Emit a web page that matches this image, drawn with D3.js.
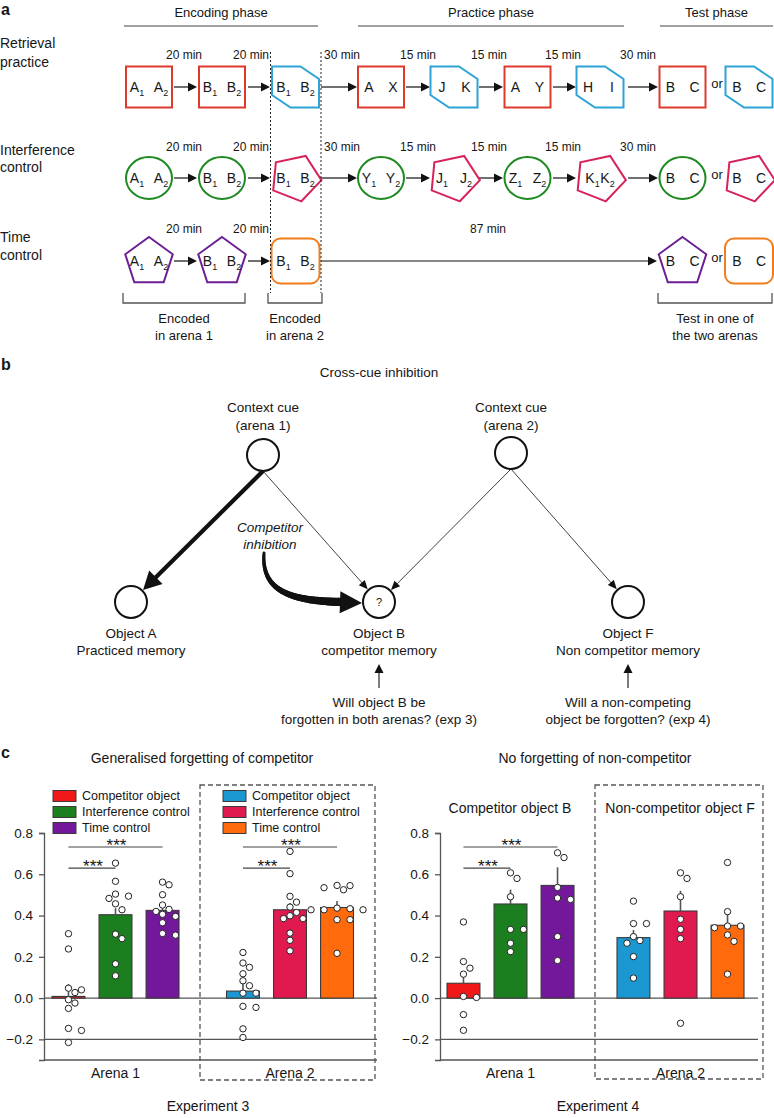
<!DOCTYPE html>
<html><head><meta charset="utf-8">
<script src="https://cdn.jsdelivr.net/npm/d3@7"></script>
<style>
body{margin:0;background:#fff}
svg{display:block}
text{font-family:"Liberation Sans",Arial,Helvetica,sans-serif;fill:#161616}
</style>
</head><body>
<svg id="fig" width="774" height="1118"></svg>
<script>
// ---------------- DATA ----------------
// Panel a
const phaseNames = ["Encoding phase", "Practice phase", "Test phase"];
const conditionNames = [["Retrieval", "practice"], ["Interference", "control"], ["Time", "control"]];
const rpTimes = ["20 min", "20 min", "30 min", "15 min", "15 min", "15 min", "30 min"];
const icTimes = ["20 min", "20 min", "30 min", "15 min", "15 min", "15 min", "30 min"];
const tcTimes = ["20 min", "20 min", "87 min"];
const rpItems = ["A_1 A_2", "B_1 B_2", "B_1 B_2", "A X", "J K", "A Y", "H I", "B C", "B C"];
const rpShapes = ["square", "square", "hex", "square", "hex", "square", "hex", "square", "hex"];
const icItems = ["A_1 A_2", "B_1 B_2", "B_1 B_2", "Y_1 Y_2", "J_1 J_2", "Z_1 Z_2", "K_1 K_2", "B C", "B C"];
const icShapes = ["circle", "circle", "pent", "circle", "pent", "circle", "pent", "circle", "pent"];
const tcItems = ["A_1 A_2", "B_1 B_2", "B_1 B_2", "B C", "B C"];
const tcShapes = ["pentUp", "pentUp", "rounded", "pentUp", "rounded"];
const bracketLabels = [["Encoded", "in arena 1"], ["Encoded", "in arena 2"], ["Test in one of", "the two arenas"]];

// Panel b
const panelBTitle = "Cross-cue inhibition";
const cueLabels = [["Context cue", "(arena 1)"], ["Context cue", "(arena 2)"]];
const objectLabels = [["Object A", "Practiced memory"], ["Object B", "competitor memory"], ["Object F", "Non competitor memory"]];
const objectMarks = ["", "?", ""];
const questionLabels = [null, ["Will object B be", "forgotten in both arenas? (exp 3)"], ["Will a non-competing", "object be forgotten? (exp 4)"]];
const cueLinks = [[0, 0, "strong"], [0, 1, "weak"], [1, 1, "weak"], [1, 2, "weak"]];
const inhibitionLabel = ["Competitor", "inhibition"];

// Panel c
const arenas = ["Arena 1", "Arena 2"];
const conditions = ["Competitor object", "Interference control", "Time control"];
const yTicks = [-0.2, 0, 0.2, 0.4, 0.6, 0.8];
const exp3Means = [[0.008, 0.404, 0.425], [0.034, 0.428, 0.439]];
const exp3Sem = [[0.060, 0.032, 0.027], [0.041, 0.033, 0.031]];
const exp3Points = [
  [[0.312, 0.238, 0.048, 0.040, 0.027, -0.008, -0.024, -0.050, -0.147, -0.157, -0.215],
   [0.654, 0.566, 0.504, 0.494, 0.483, 0.457, 0.428, 0.310, 0.288, 0.166, 0.108],
   [0.562, 0.549, 0.501, 0.451, 0.430, 0.420, 0.406, 0.396, 0.365, 0.313, 0.305]],
  [[0.221, 0.170, 0.149, 0.118, 0.084, 0.060, 0.024, 0.024, -0.040, -0.045, -0.149, -0.191],
   [0.711, 0.603, 0.493, 0.465, 0.441, 0.415, 0.399, 0.385, 0.385, 0.315, 0.280, 0.229],
   [0.546, 0.545, 0.535, 0.525, 0.436, 0.433, 0.428, 0.428, 0.428, 0.380, 0.380, 0.217]]
];
const exp4Means = [[0.072, 0.456, 0.546], [0.293, 0.422, 0.353]];
const exp4Sem = [[0.044, 0.070, 0.088], [0.037, 0.098, 0.056]];
const exp4Points = [
  [[0.369, 0.177, 0.145, 0.116, 0.008, 0.003, -0.080, -0.156],
   [0.607, 0.580, 0.491, 0.333, 0.333, 0.266, 0.225],
   [0.704, 0.681, 0.536, 0.485, 0.478, 0.298, 0.182]],
  [[0.470, 0.361, 0.361, 0.298, 0.279, 0.266, 0.201, 0.097],
   [0.607, 0.580, 0.491, 0.382, 0.333, 0.288, -0.122],
   [0.657, 0.419, 0.349, 0.349, 0.341, 0.306, 0.275, 0.116]]
];
const exp3Sig = [[0, 1, 0.630], [0, 2, 0.732]]; // [from bar, to bar, y]
const exp4Sig = [[0, 1, 0.630], [0, 2, 0.732]];
const exp3Title = "Generalised forgetting of competitor";
const exp4Title = "No forgetting of non-competitor";
const exp4Sub = ["Competitor object B", "Non-competitor object F"];
const expNames = ["Experiment 3", "Experiment 4"];

// ---------------- STYLE / LAYOUT ----------------
const C = {
  red: "#dd3a2c", blue: "#2ea3d6", green: "#1f8a22", crimson: "#d6245a", purple: "#6c1f92", orange: "#f17d1c",
  axis: "#555"
};
const shapeColor = {square: C.red, hex: C.blue, circle: C.green, pent: C.crimson, pentUp: C.purple, rounded: C.orange};
const barColors = [["#f01818", "#1c7f1f", "#73189a"], ["#1b98d2", "#e0194e", "#ff6b0c"]];

const svg = d3.select("#fig");

function T(g, x, y, s, o = {}) {
  const t = g.append("text").attr("x", x).attr("y", y)
    .attr("dominant-baseline", "central")
    .attr("text-anchor", o.anchor || "middle")
    .style("font-size", (o.size || 14) + "px");
  if (o.weight) t.style("font-weight", o.weight);
  if (o.italic) t.style("font-style", "italic");
  if (o.fill) t.style("fill", o.fill);
  t.text(s);
  return t;
}
function arrow(g, x1, y1, x2, y2, o = {}) {
  const w = o.w || 1.2, hl = o.hl || 9, hw = o.hw || 4.5, col = o.color || "#111";
  const a = Math.atan2(y2 - y1, x2 - x1);
  const bx = x2 - hl * Math.cos(a), by = y2 - hl * Math.sin(a);
  g.append("line").attr("x1", x1).attr("y1", y1).attr("x2", bx + Math.cos(a)).attr("y2", by + Math.sin(a))
    .attr("stroke", col).attr("stroke-width", w);
  const px = -Math.sin(a), py = Math.cos(a);
  g.append("polygon").attr("points", [[x2, y2], [bx + px * hw, by + py * hw], [bx - px * hw, by - py * hw]].map(p => p.join(",")).join(" "))
    .attr("fill", col);
}
function polyPts(cx, cy, R, rotDeg, sy = 1) {
  return d3.range(5).map(i => {
    const a = (rotDeg + i * 72) * Math.PI / 180;
    return [cx + R * Math.cos(a), cy + R * Math.sin(a) * sy];
  }).map(p => p.join(",")).join(" ");
}
function drawShape(g, type, cx, cy) {
  const col = shapeColor[type];
  let s;
  if (type === "square") s = g.append("rect").attr("x", cx - 23).attr("y", cy - 20.5).attr("width", 46).attr("height", 41);
  else if (type === "hex") s = g.append("polygon").attr("points",
    [[cx - 23.5, cy - 20.5], [cx + 5, cy - 20.5], [cx + 23.5, cy - 8], [cx + 23.5, cy + 20.5], [cx - 5, cy + 20.5], [cx - 23.5, cy + 8]].map(p => p.join(",")).join(" "));
  else if (type === "circle") s = g.append("ellipse").attr("cx", cx).attr("cy", cy).attr("rx", 23).attr("ry", 21);
  else if (type === "pent") s = g.append("polygon").attr("points", polyPts(cx, cy, 26, 5, 0.92));
  else if (type === "pentUp") s = g.append("polygon").attr("points", polyPts(cx, cy + 1, 25, -90));
  else if (type === "rounded") s = g.append("rect").attr("x", cx - 24).attr("y", cy - 22.5).attr("width", 48).attr("height", 45).attr("rx", 9);
  s.attr("fill", "none").attr("stroke", col).attr("stroke-width", 2);
}
function itemLabel(g, cx, cy, str) {
  const toks = str.split(" ");
  const gap = str.startsWith("K") ? 7.5 : 12;
  toks.forEach((tk, i) => {
    const [L, sub] = tk.split("_");
    const t = g.append("text").attr("x", cx + (i === 0 ? -gap : gap)).attr("y", cy + 5)
      .attr("text-anchor", "middle").style("font-size", "14px");
    t.append("tspan").text(L);
    if (sub) t.append("tspan").attr("dy", 3.5).style("font-size", "9px").text(sub);
  });
}

// ---------------- PANEL A ----------------
const gA = svg.append("g");
T(gA, 1, 9, "a", {anchor: "start", size: 16, weight: "bold"});
const phaseLine = [[124, 318], [358, 624], [660, 773]];
phaseNames.forEach((p, i) => {
  T(gA, (phaseLine[i][0] + phaseLine[i][1]) / 2, 12, p, {size: 13});
  gA.append("line").attr("x1", phaseLine[i][0]).attr("x2", phaseLine[i][1]).attr("y1", 26).attr("y2", 26)
    .attr("stroke", "#444").attr("stroke-width", 1);
});
const slotX = [149, 222, 295.5, 381, 454, 527.5, 600, 682.5, 749];
const rowY = [87, 178, 261];
const timeY = [55, 147, 229];
const labelY = [[43, 62], [150, 167], [237, 255]];
const timeX = [184, 251, 342, 418, 489, 563, 638];
const arrowX = [[174, 197], [248, 270], [321, 357], [406, 430], [479, 503], [553, 576], [628, 658]];
const rows = [
  {times: rpTimes, items: rpItems, shapes: rpShapes, slots: d3.range(9), arrows: arrowX, tx: timeX},
  {times: icTimes, items: icItems, shapes: icShapes, slots: d3.range(9), arrows: arrowX, tx: timeX},
  {times: tcTimes, items: tcItems, shapes: tcShapes, slots: [0, 1, 2, 7, 8], arrows: [[174, 197], [248, 270], [321, 657]], tx: [184, 251, 488]}
];
rows.forEach((r, ri) => {
  conditionNames[ri].forEach((l, k) => T(gA, 0, labelY[ri][k], l, {anchor: "start", size: 14}));
  r.times.forEach((t, k) => T(gA, r.tx[k], timeY[ri], t, {size: 12}));
  r.arrows.forEach(a => arrow(gA, a[0], rowY[ri], a[1], rowY[ri], {w: 1.2, hl: 9, hw: 4.5}));
  r.items.forEach((it, k) => {
    const cx = slotX[r.slots[k]];
    drawShape(gA, r.shapes[k], cx, rowY[ri]);
    itemLabel(gA, cx, rowY[ri], it);
  });
  T(gA, 717, rowY[ri] - 4, "or", {size: 13});
});
[270.5, 321].forEach(x => gA.append("line").attr("x1", x).attr("x2", x).attr("y1", 52).attr("y2", 293)
  .attr("stroke", "#222").attr("stroke-width", 1).attr("stroke-dasharray", "2,2"));
const brackets = [[123, 245], [268, 322], [658, 772]];
brackets.forEach((b, i) => {
  gA.append("path").attr("d", `M${b[0]},293V303H${b[1]}V293`).attr("fill", "none").attr("stroke", "#555").attr("stroke-width", 1.3);
  const cx = (b[0] + b[1]) / 2;
  T(gA, cx, 318, bracketLabels[i][0], {size: 13});
  T(gA, cx, 335, bracketLabels[i][1], {size: 13});
});

// ---------------- PANEL B ----------------
const gB = svg.append("g");
T(gB, 1, 364, "b", {anchor: "start", size: 16, weight: "bold"});
T(gB, 379, 372, panelBTitle, {size: 13.5});
const cuePos = [[263, 455], [511, 453]];
const objPos = [[131, 602], [379, 602], [628, 602]];
const nodeR = 16;
cueLabels.forEach((l, i) => {
  T(gB, cuePos[i][0], 407, l[0], {size: 13.5});
  T(gB, cuePos[i][0], 425, l[1], {size: 13.5});
  gB.append("circle").attr("cx", cuePos[i][0]).attr("cy", cuePos[i][1]).attr("r", nodeR)
    .attr("fill", "#fff").attr("stroke", "#111").attr("stroke-width", 2);
});
objectLabels.forEach((l, i) => {
  gB.append("circle").attr("cx", objPos[i][0]).attr("cy", objPos[i][1]).attr("r", nodeR)
    .attr("fill", "#fff").attr("stroke", "#111").attr("stroke-width", 2);
  if (objectMarks[i]) T(gB, objPos[i][0], objPos[i][1], objectMarks[i], {size: 11});
  T(gB, objPos[i][0], 633, l[0], {size: 13.5});
  T(gB, objPos[i][0], 650, l[1], {size: 13.5});
  if (questionLabels[i]) {
    arrow(gB, objPos[i][0], 688, objPos[i][0], 664, {w: 1.1, hl: 9, hw: 4.5});
    T(gB, objPos[i][0], 702, questionLabels[i][0], {size: 13.5});
    T(gB, objPos[i][0], 719, questionLabels[i][1], {size: 13.5});
  }
});
cueLinks.forEach(([c, o, kind]) => {
  const sx = cuePos[c][0], sy = cuePos[c][1] + nodeR;
  const tx = objPos[o][0], ty = objPos[o][1];
  const a = Math.atan2(ty - sy, tx - sx);
  const ex = tx - (nodeR + 1) * Math.cos(a), ey = ty - (nodeR + 1) * Math.sin(a);
  if (kind === "strong") arrow(gB, sx, sy, ex, ey, {w: 4.2, hl: 18, hw: 9.5});
  else arrow(gB, sx, sy, ex, ey, {w: 0.8, hl: 9, hw: 4});
});
T(gB, 270, 527, inhibitionLabel[0], {size: 13.5, italic: true});
T(gB, 270, 544, inhibitionLabel[1], {size: 13.5, italic: true});
// tapered curved inhibition arrow
(function () {
  const P = [[264, 553], [261, 592], [292, 601], [342, 602]];
  const bez = t => [0, 1].map(k => (1 - t) ** 3 * P[0][k] + 3 * (1 - t) ** 2 * t * P[1][k] + 3 * (1 - t) * t * t * P[2][k] + t ** 3 * P[3][k]);
  const N = 40;
  for (let i = 0; i < N; i++) {
    const a = bez(i / N), b = bez((i + 1) / N);
    gB.append("line").attr("x1", a[0]).attr("y1", a[1]).attr("x2", b[0]).attr("y2", b[1])
      .attr("stroke", "#111").attr("stroke-width", 3 + 5.5 * (i / N)).attr("stroke-linecap", "round");
  }
  arrow(gB, 338, 602.2, 362, 603, {w: 0.1, hl: 22, hw: 11});
})();

// ---------------- PANEL C ----------------
const gC = svg.append("g");
T(gC, 1, 752, "c", {anchor: "start", size: 16, weight: "bold"});
const y = d3.scaleLinear().domain([-0.3, 0.8]).range([1060, 833]);
const inner = d3.scaleBand().domain([0, 1, 2]).range([-63.5, 63.5]).paddingInner(0.3);

function swarm(vals, cx, r) {
  const placed = [];
  const order = vals.map((v, i) => i).sort((a, b) => vals[b] - vals[a]);
  const out = new Array(vals.length);
  order.forEach(i => {
    const py = y(vals[i]);
    const offs = [0, 6.5, -6.5, 13, -13, 19.5, -19.5, 26, -26];
    for (const dx of offs) {
      const px = cx + dx;
      if (placed.every(p => Math.hypot(p[0] - px, p[1] - py) >= 2 * r + 0.6)) {
        placed.push([px, py]); out[i] = [px, py]; break;
      }
    }
    if (!out[i]) out[i] = [cx, py];
  });
  return out;
}

function drawExp(cfg) {
  const g = gC.append("g");
  const outer = d3.scalePoint().domain(arenas).range(cfg.groupCenters);
  g.append("rect").attr("x", cfg.box[0]).attr("y", cfg.box[1]).attr("width", cfg.box[2] - cfg.box[0]).attr("height", cfg.box[3] - cfg.box[1])
    .attr("fill", "none").attr("stroke", "#555").attr("stroke-width", 1.3).attr("stroke-dasharray", "5,3");
  const ax = g.append("g").attr("transform", `translate(${cfg.axisX},0)`)
    .call(d3.axisLeft(y).tickValues(yTicks).tickFormat(d3.format(".1f")).tickSizeOuter(0).tickSize(5).tickPadding(6));
  ax.select(".domain").attr("stroke", C.axis).attr("stroke-width", 1.3);
  ax.selectAll(".tick line").attr("stroke", C.axis).attr("stroke-width", 1.3);
  ax.selectAll(".tick text").style("font-size", "13.5px").style("font-family", '"Liberation Sans",Arial,sans-serif').attr("fill", "#161616");
  [0, -0.2].forEach(v => g.append("line").attr("x1", cfg.axisX).attr("x2", cfg.endX).attr("y1", y(v)).attr("y2", y(v))
    .attr("stroke", C.axis).attr("stroke-width", 1.3));
  g.append("line").attr("x1", cfg.axisX).attr("x2", cfg.endX).attr("y1", y(-0.3)).attr("y2", y(-0.3))
    .attr("stroke", C.axis).attr("stroke-width", 1.3);
  arenas.forEach((ar, gi) => {
    conditions.forEach((cd, ci) => {
      const x0 = outer(ar) + inner(ci), bw = inner.bandwidth();
      const m = cfg.means[gi][ci];
      g.append("rect").attr("x", x0).attr("width", bw).attr("y", y(Math.max(0, m))).attr("height", Math.abs(y(m) - y(0)))
        .attr("fill", barColors[gi][ci]).attr("stroke", "#3a3a3a").attr("stroke-width", 1.1);
      g.append("line").attr("x1", x0 + bw / 2).attr("x2", x0 + bw / 2).attr("y1", y(m)).attr("y2", y(m + cfg.sem[gi][ci]))
        .attr("stroke", "#555").attr("stroke-width", 1.6);
      const pts = swarm(cfg.points[gi][ci], x0 + bw / 2, 3.2);
      g.selectAll(null).data(pts).enter().append("circle").attr("cx", d => d[0]).attr("cy", d => d[1]).attr("r", 3.2)
        .attr("fill", "#fff").attr("stroke", "#222").attr("stroke-width", 1);
    });
    T(g, outer(ar), 1073, ar, {size: 14});
  });
  arenas.forEach((ar, gi) => {
    if (!cfg.sig[gi]) return;
    cfg.sig[gi].forEach(([a, b, v]) => {
      const xa = outer(ar) + inner(a) + inner.bandwidth() / 2, xb = outer(ar) + inner(b) + inner.bandwidth() / 2;
      g.append("line").attr("x1", xa).attr("x2", xb).attr("y1", y(v)).attr("y2", y(v)).attr("stroke", "#444").attr("stroke-width", 1.1);
      g.append("text").attr("x", (xa + xb) / 2 + 1).attr("y", y(v) + 4).attr("text-anchor", "middle").style("font-size", "17px").text("***");
    });
  });
  T(g, cfg.title[0], 758, cfg.title[1], {size: 14});
  T(g, cfg.exp[0], 1106, cfg.exp[1], {size: 14});
  return g;
}

const g3 = drawExp({
  groupCenters: [115.5, 290], box: [200, 785, 375, 1080], axisX: 44, endX: 377,
  means: exp3Means, sem: exp3Sem, points: exp3Points, sig: [exp3Sig, exp3Sig],
  title: [202, exp3Title], exp: [208, expNames[0]]
});
const g4 = drawExp({
  groupCenters: [510.5, 680.5], box: [595, 785, 763, 1079], axisX: 440, endX: 758,
  means: exp4Means, sem: exp4Sem, points: exp4Points, sig: [exp4Sig, null],
  title: [595, exp4Title], exp: [598, expNames[1]]
});
[[53, 0], [223, 1]].forEach(([lx, gi]) => {
  conditions.forEach((cd, ci) => {
    const cy = 796 + ci * 16;
    g3.append("rect").attr("x", lx).attr("y", cy - 5.5).attr("width", 23).attr("height", 11)
      .attr("fill", barColors[gi][ci]).attr("stroke", "#3a3a3a").attr("stroke-width", 1);
    T(g3, lx + 29, cy, cd, {anchor: "start", size: 12.5});
  });
});
T(g4, 510, 808, exp4Sub[0], {size: 14});
T(g4, 680, 808, exp4Sub[1], {size: 14});
</script>
</body></html>
